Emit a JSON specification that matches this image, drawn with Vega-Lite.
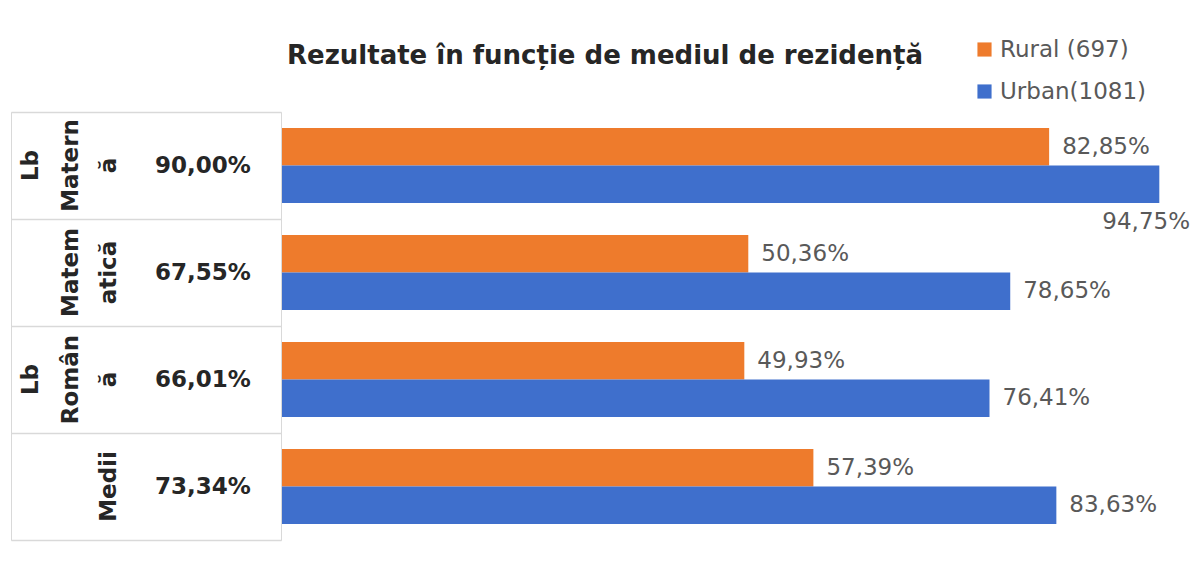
{
  "$schema": "https://vega.github.io/schema/vega-lite/v6.json",
  "background": "white",
  "padding": {"left": 10, "top": 38, "right": 2, "bottom": 2},
  "config": {
    "view": {"stroke": null},
    "font": "DejaVu Sans",
    "locale": {"number": {"decimal": ",", "thousands": ".", "grouping": [3], "currency": ["", " €"]}}
  },
  "datasets": {
    "rows": [
      {"cat": "Lb Maternă", "l1": "Lb", "l2": "Matern", "l3": "ă", "overall": 0.9},
      {"cat": "Matematică", "l1": "", "l2": "Matem", "l3": "atică", "overall": 0.6755},
      {"cat": "Lb Română", "l1": "Lb", "l2": "Român", "l3": "ă", "overall": 0.6601},
      {"cat": "Medii", "l1": "", "l2": "", "l3": "Medii", "overall": 0.7334}
    ],
    "bars": [
      {"cat": "Lb Maternă", "series": "Rural  (697)", "value": 0.8285},
      {"cat": "Lb Maternă", "series": "Urban(1081)", "value": 0.9475},
      {"cat": "Matematică", "series": "Rural  (697)", "value": 0.5036},
      {"cat": "Matematică", "series": "Urban(1081)", "value": 0.7865},
      {"cat": "Lb Română", "series": "Rural  (697)", "value": 0.4993},
      {"cat": "Lb Română", "series": "Urban(1081)", "value": 0.7641},
      {"cat": "Medii", "series": "Rural  (697)", "value": 0.5739},
      {"cat": "Medii", "series": "Urban(1081)", "value": 0.8363}
    ]
  },
  "spacing": 0,
  "hconcat": [
    {
      "width": 270,
      "height": 428,
      "view": {"stroke": "#d9d9d9"},
      "data": {"name": "rows"},
      "encoding": {
        "y": {
          "field": "cat", "type": "nominal", "sort": null,
          "scale": {"paddingInner": 0, "paddingOuter": 0},
          "axis": {"title": null, "labels": false, "ticks": false, "domain": false, "grid": true, "tickBand": "extent", "gridColor": "#d9d9d9", "gridWidth": 1.5}
        }
      },
      "layer": [
        {
          "mark": {"type": "text", "angle": 270, "align": "center", "baseline": "middle", "fontSize": 23, "fontWeight": "bold", "color": "#262626"},
          "encoding": {
            "text": {"field": "l1"},
            "x": {"datum": 0.074, "type": "quantitative", "scale": {"domain": [0, 1]}, "axis": null}
          }
        },
        {
          "mark": {"type": "text", "angle": 270, "align": "center", "baseline": "middle", "fontSize": 23, "fontWeight": "bold", "color": "#262626"},
          "encoding": {
            "text": {"field": "l2"},
            "x": {"datum": 0.222, "type": "quantitative"}
          }
        },
        {
          "mark": {"type": "text", "angle": 270, "align": "center", "baseline": "middle", "fontSize": 23, "fontWeight": "bold", "color": "#262626"},
          "encoding": {
            "text": {"field": "l3"},
            "x": {"datum": 0.363, "type": "quantitative"}
          }
        },
        {
          "mark": {"type": "text", "align": "center", "baseline": "middle", "fontSize": 23, "fontWeight": "bold", "color": "#262626"},
          "encoding": {
            "text": {"field": "overall", "type": "quantitative", "format": ".2%"},
            "x": {"datum": 0.711, "type": "quantitative"}
          }
        }
      ]
    },
    {
      "width": 900,
      "height": 428,
      "title": {"text": "Rezultate în funcție de mediul de rezidență", "anchor": "start", "font": "DejaVu Sans", "fontSize": 26, "fontWeight": "bold", "color": "#262626", "offset": 43, "dx": 5},
      "data": {"name": "bars"},
      "encoding": {
        "y": {"field": "cat", "type": "nominal", "sort": null, "scale": {"paddingInner": 0.3, "paddingOuter": 0.15}, "axis": null},
        "yOffset": {"field": "series", "type": "nominal", "sort": null},
        "x": {"field": "value", "type": "quantitative", "scale": {"domain": [0, 0.972]}, "axis": null}
      },
      "layer": [
        {
          "mark": {"type": "bar"},
          "encoding": {
            "color": {
              "field": "series", "type": "nominal", "sort": null,
              "scale": {"range": ["#EE7B2C", "#3F6FCC"]},
              "legend": {"title": null, "orient": "none", "legendX": 962, "legendY": -74, "symbolType": "square", "symbolSize": 200, "labelFontSize": 23, "labelColor": "#595959", "rowPadding": 18, "symbolStrokeWidth": 0}
            }
          }
        },
        {
          "transform": [{"filter": "datum.value < 0.9"}],
          "mark": {"type": "text", "align": "left", "baseline": "middle", "dx": 13, "fontSize": 23, "color": "#595959"},
          "encoding": {"text": {"field": "value", "type": "quantitative", "format": ".2%"}}
        },
        {
          "transform": [{"filter": "datum.value >= 0.9"}],
          "mark": {"type": "text", "align": "left", "baseline": "middle", "dx": -57, "dy": 38, "fontSize": 23, "color": "#595959"},
          "encoding": {"text": {"field": "value", "type": "quantitative", "format": ".2%"}}
        }
      ]
    }
  ]
}
